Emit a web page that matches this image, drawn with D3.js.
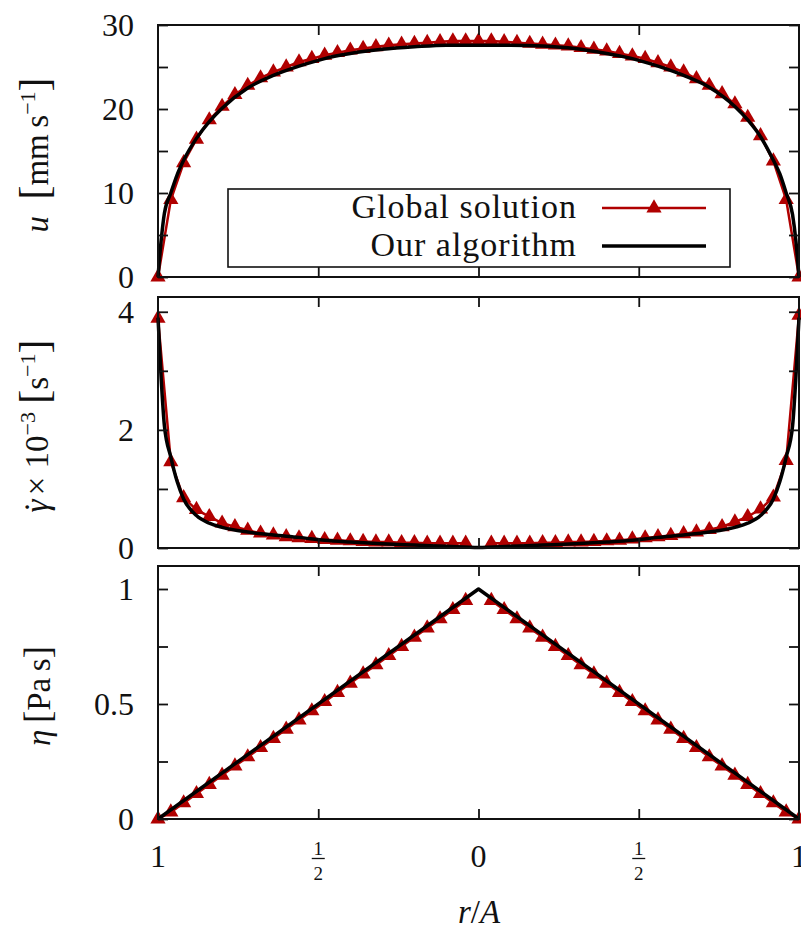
<!DOCTYPE html>
<html>
<head>
<meta charset="utf-8">
<script src="https://cdn.jsdelivr.net/npm/d3@7"></script>
<style>
  body { margin: 0; background: #fff; }
  svg { display: block; }
  svg text { font-family: "Liberation Serif", "DejaVu Serif", serif; fill: #111; }
</style>
</head>
<body>
<div id="chart"></div>
<script>
// r/A positions of the global solution (signed so both walls show)
const rGlobal = [-1, -0.96, -0.92, -0.88, -0.84, -0.8, -0.76, -0.72, -0.68, -0.64, -0.6, -0.56, -0.52,
  -0.48, -0.44, -0.4, -0.36, -0.32, -0.28, -0.24, -0.2, -0.16, -0.12, -0.08, -0.04, 0,
  0.04, 0.08, 0.12, 0.16, 0.2, 0.24, 0.28, 0.32, 0.36, 0.4, 0.44, 0.48, 0.52, 0.56, 0.6,
  0.64, 0.68, 0.72, 0.76, 0.8, 0.84, 0.88, 0.92, 0.96, 1];

// Global solution values
const uGlobal = [0, 9.2, 13.6, 16.4, 18.7, 20.3, 21.7, 22.8, 23.7, 24.4, 25.0, 25.6, 26.0,
  26.4, 26.7, 27.0, 27.2, 27.4, 27.6, 27.7, 27.8, 27.9, 28.0, 28.1, 28.1, 28.1,
  28.1, 28.0, 27.9, 27.8, 27.7, 27.6, 27.5, 27.3, 27.1, 26.9, 26.6, 26.3, 26.0, 25.5, 25.0,
  24.4, 23.6, 22.8, 21.8, 20.6, 19.0, 16.8, 13.8, 9.2, 0];
const gammaGlobal = [3.89, 1.46, 0.85, 0.65, 0.53, 0.42, 0.36, 0.30, 0.25, 0.22, 0.19, 0.17, 0.16,
  0.14, 0.13, 0.12, 0.11, 0.10, 0.10, 0.09, 0.09, 0.08, 0.08, 0.08, 0.08, null,
  0.08, 0.08, 0.08, 0.08, 0.09, 0.09, 0.10, 0.10, 0.11, 0.12, 0.13, 0.15, 0.17, 0.19, 0.21,
  0.24, 0.27, 0.31, 0.36, 0.44, 0.53, 0.66, 0.86, 1.48, 3.94];
const etaGlobal = [0.0, 0.03, 0.07, 0.11, 0.15, 0.19, 0.23, 0.27, 0.31, 0.35, 0.39, 0.43, 0.47,
  0.51, 0.55, 0.59, 0.63, 0.67, 0.71, 0.75, 0.79, 0.83, 0.87, 0.91, 0.95, null,
  0.95, 0.91, 0.87, 0.83, 0.79, 0.75, 0.71, 0.67, 0.63, 0.59, 0.55, 0.51, 0.47, 0.43, 0.39,
  0.35, 0.31, 0.27, 0.23, 0.19, 0.15, 0.11, 0.07, 0.03, 0.0];

// Our algorithm
const rAlg = [-1, -0.99, -0.98, -0.96, -0.94, -0.92, -0.88, -0.84, -0.8, -0.72, -0.64, -0.56, -0.48,
  -0.4, -0.3, -0.2, -0.1, 0, 0.1, 0.2, 0.3, 0.4, 0.48, 0.56, 0.64, 0.72, 0.8, 0.84, 0.88,
  0.92, 0.94, 0.96, 0.98, 0.99, 1];
const uAlg = [0, 4.4, 7.6, 10.0, 12.2, 13.9, 16.5, 18.5, 20.1, 22.5, 24.0, 25.1, 26.0,
  26.6, 27.1, 27.4, 27.6, 27.6, 27.6, 27.5, 27.2, 26.6, 26.0, 25.1, 24.0, 22.6, 20.3, 18.7, 16.7,
  13.9, 12.3, 10.0, 7.4, 4.4, 0];
const gammaAlg = [3.9, 2.86, 2.07, 1.54, 1.12, 0.83, 0.55, 0.42, 0.35, 0.27, 0.22, 0.18, 0.13,
  0.10, 0.07, 0.05, 0.03, 0.01, 0.03, 0.05, 0.07, 0.10, 0.13, 0.18, 0.22, 0.27, 0.35, 0.42, 0.55,
  0.83, 1.12, 1.54, 2.07, 2.86, 3.9];
const rEtaAlg = [-1, 0, 1];
const etaAlg = [0, 1, 0];

// Tick values and labels
const uTicks = [0, 10, 20, 30], uMinor = [5, 15, 25];
const gammaTicks = [0, 2, 4], gammaMinor = [1, 3];
const etaTicks = [0, 0.5, 1], etaMinor = [0.25, 0.75];
const xTicks = [-1, -0.5, 0, 0.5, 1];
const xTickLabels = ['1', '1/2', '0', '1/2', '1'];

const seriesNames = ['Global solution', 'Our algorithm'];

// Layout
const svgWidth = 801, svgHeight = 932;
const xLeft = 158, xRight = 799;
const red = '#b00000';
const tickLen = 10;

const panels = [
  {top: 25, bottom: 277, domain: [0, 30], ticks: uTicks, minor: uMinor, fmt: d => d,
   glob: uGlobal, alg: uAlg, rA: rAlg, curve: d3.curveMonotoneX},
  {top: 297, bottom: 548, domain: [0, 4.25], ticks: gammaTicks, minor: gammaMinor, fmt: d => d,
   glob: gammaGlobal, alg: gammaAlg, rA: rAlg, curve: d3.curveMonotoneX},
  {top: 566, bottom: 819, domain: [0, 1.1], ticks: etaTicks, minor: etaMinor, fmt: d => d,
   glob: etaGlobal, alg: etaAlg, rA: rEtaAlg, curve: d3.curveLinear}
];

const svg = d3.select('#chart').append('svg')
  .attr('width', svgWidth)
  .attr('height', svgHeight);

const xScale = d3.scaleLinear().domain([-1, 1]).range([xLeft, xRight]);
const triangle = d3.symbol(d3.symbolTriangle).size(100);

panels.forEach((p) => {
  const yScale = d3.scaleLinear().domain(p.domain).range([p.bottom, p.top]);
  const g = svg.append('g');

  // Global solution: red line with triangles
  const globPts = rGlobal.map((r, i) => [r, p.glob[i]]);
  g.append('path')
    .datum(globPts)
    .attr('fill', 'none')
    .attr('stroke', red)
    .attr('stroke-width', 2.5)
    .attr('d', d3.line().defined(d => d[1] != null).x(d => xScale(d[0])).y(d => yScale(d[1])));

  g.selectAll('.mk')
    .data(globPts.filter(d => d[1] != null))
    .enter()
    .append('path')
    .attr('class', 'mk')
    .attr('fill', red)
    .attr('transform', d => `translate(${xScale(d[0])},${yScale(d[1])})`)
    .attr('d', triangle);

  // Our algorithm: black line
  const algPts = p.rA.map((r, i) => [r, p.alg[i]]);
  g.append('path')
    .datum(algPts)
    .attr('fill', 'none')
    .attr('stroke', '#000')
    .attr('stroke-width', 3.5)
    .attr('stroke-linejoin', 'round')
    .attr('d', d3.line().curve(p.curve).x(d => xScale(d[0])).y(d => yScale(d[1])));

  // Axes, ticks pointing inwards
  g.append('g')
    .attr('transform', `translate(${xLeft},0)`)
    .call(d3.axisLeft(yScale).tickValues(p.ticks).tickSize(-tickLen).tickSizeOuter(0)
      .tickPadding(24).tickFormat(p.fmt))
    .selectAll('text').attr('font-size', 32);

  g.append('g')
    .attr('transform', `translate(${xLeft},0)`)
    .call(d3.axisLeft(yScale).tickValues(p.minor).tickSize(-tickLen).tickSizeOuter(0).tickFormat(''));

  g.append('g')
    .attr('transform', `translate(${xRight},0)`)
    .call(d3.axisRight(yScale).tickValues(p.ticks.concat(p.minor)).tickSize(-tickLen).tickSizeOuter(0).tickFormat(''));

  g.append('g')
    .attr('transform', `translate(0,${p.bottom})`)
    .call(d3.axisBottom(xScale).tickValues([-0.5, 0, 0.5]).tickSize(-tickLen).tickSizeOuter(0).tickFormat(''));

  g.append('g')
    .attr('transform', `translate(0,${p.top})`)
    .call(d3.axisTop(xScale).tickValues([-0.5, 0, 0.5]).tickSize(-tickLen).tickSizeOuter(0).tickFormat(''));

  g.selectAll('.domain').remove();
  g.selectAll('.tick line').attr('stroke', '#111').attr('stroke-width', 1.8);

  // border
  g.append('rect')
    .attr('x', xLeft)
    .attr('y', p.top)
    .attr('width', xRight - xLeft)
    .attr('height', p.bottom - p.top)
    .attr('fill', 'none')
    .attr('stroke', '#111')
    .attr('stroke-width', 2);
});

// x tick labels (stacked fractions for 1/2)
const xLab = svg.append('g');
xTicks.forEach((v, i) => {
  const x = xScale(v);
  const lab = xTickLabels[i];
  if (lab.includes('/')) {
    const [num, den] = lab.split('/');
    xLab.append('text').attr('x', x).attr('y', 855).attr('text-anchor', 'middle')
      .attr('font-size', 19).text(num);
    xLab.append('line').attr('x1', x - 6.5).attr('x2', x + 6.5).attr('y1', 858.5).attr('y2', 858.5)
      .attr('stroke', '#111').attr('stroke-width', 1.3);
    xLab.append('text').attr('x', x).attr('y', 880).attr('text-anchor', 'middle')
      .attr('font-size', 19).text(den);
  } else {
    xLab.append('text').attr('x', x).attr('y', 867).attr('text-anchor', 'middle')
      .attr('font-size', 32).text(lab);
  }
});

// x axis label
const xt = svg.append('text').attr('x', 479).attr('y', 923).attr('text-anchor', 'middle').attr('font-size', 33);
xt.append('tspan').attr('font-style', 'italic').text('r');
xt.append('tspan').text('/');
xt.append('tspan').attr('font-style', 'italic').text('A');

// y axis labels
function yTitle(cx, cy, parts) {
  const t = svg.append('text')
    .attr('transform', `translate(${cx},${cy}) rotate(-90)`)
    .attr('text-anchor', 'middle')
    .attr('font-size', 33);
  parts.forEach(pt => {
    const s = t.append('tspan').text(pt.t);
    if (pt.i) s.attr('font-style', 'italic');
    if (pt.fs) s.attr('font-size', pt.fs);
    if (pt.dy) s.attr('dy', pt.dy);
    if (pt.dx) s.attr('dx', pt.dx);
  });
}
yTitle(48, 155, [
  {t: 'u', i: true}, {t: '\u2002'}, {t: '[', fs: 42}, {t: 'mm\u2009s'},
  {t: '\u22121', fs: 22, dy: -13}, {t: ']', fs: 42, dy: 13}
]);
yTitle(48, 426, [
  {t: '\u03b3', i: true}, {t: '\u02d9', dx: -13}, {t: '\u2005\u00d7\u200510', dx: -2},
  {t: '\u22123', fs: 22, dy: -13}, {t: '\u2005', dy: 13}, {t: '[', fs: 42}, {t: 's'},
  {t: '\u22121', fs: 22, dy: -13}, {t: ']', fs: 42, dy: 13}
]);
yTitle(50, 696, [
  {t: '\u03b7', i: true}, {t: '\u2009'}, {t: '[', fs: 37}, {t: 'Pa\u2009s'}, {t: ']', fs: 37}
]);

// Legend
const leg = svg.append('g');
leg.append('rect')
  .attr('x', 228).attr('y', 189).attr('width', 502).attr('height', 78)
  .attr('fill', 'none').attr('stroke', '#111').attr('stroke-width', 1.6);
const legY = [208, 246];
seriesNames.forEach((name, i) => {
  leg.append('text')
    .attr('x', 577).attr('y', legY[i] + 10)
    .attr('text-anchor', 'end')
    .attr('font-size', 34)
    .attr('letter-spacing', 1)
    .text(name);
  leg.append('line')
    .attr('x1', 602).attr('x2', 706).attr('y1', legY[i]).attr('y2', legY[i])
    .attr('stroke', i === 0 ? red : '#000')
    .attr('stroke-width', i === 0 ? 2.5 : 3.5);
});
leg.append('path')
  .attr('fill', red)
  .attr('transform', `translate(654,${legY[0]})`)
  .attr('d', triangle);
</script>
</body>
</html>
